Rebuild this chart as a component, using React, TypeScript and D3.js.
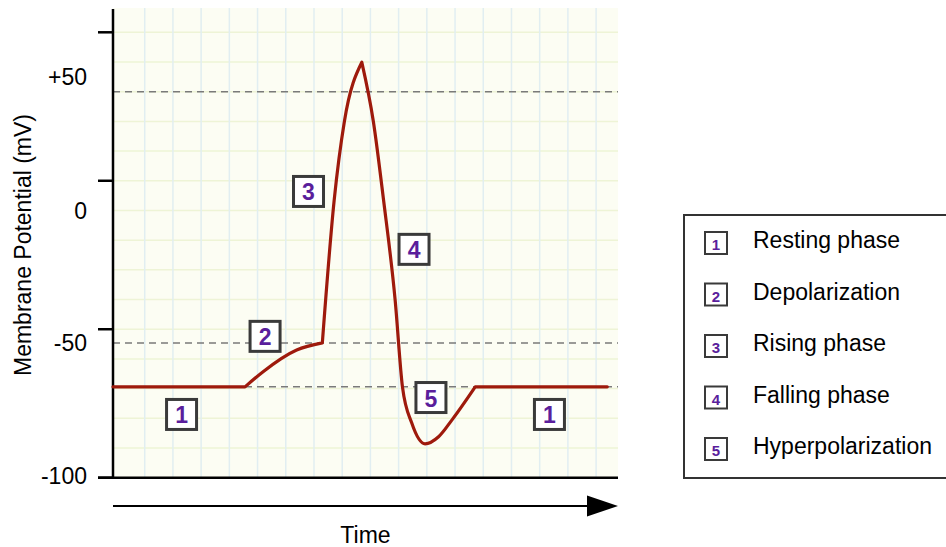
import React from 'react';
import * as d3 from 'd3';

// ---------- data ----------
const timeExtent: [number, number] = [0, 17.9];
const mvDomain: [number, number] = [-100, 50];
const yTicks = [-100, -50, 0, 50];
const yTickLabels = ['-100', '-50', '0', '+50'];
const gridTimes = d3.range(0, 17).map((k) => 1.124 + k);
const gridMv = d3.range(-90, 51, 10);
const referenceLevels = [30, -54.6, -69.4];

const restingStart: [number, number][] = [[0, -69.4], [4.68, -69.4]];
const depolarization: [number, number][] = [
  [4.68, -69.4], [5.32, -64.3], [6.51, -57.0], [7.42, -54.6],
];
const risingPhase: [number, number][] = [
  [7.42, -54.6], [7.84, -6.5], [8.2, 19.9], [8.82, 39.9],
];
const fallingPhase: [number, number][] = [
  [8.82, 39.9], [9.23, 19.9], [9.59, -6.5], [10.0, -40.1], [10.26, -69.4],
  [10.59, -81.6], [11.06, -88.6], [11.54, -86.2], [12.01, -80.6], [12.84, -69.4],
];
const restingEnd: [number, number][] = [[12.84, -69.4], [17.52, -69.4]];

const phaseNumbers = ['1', '2', '3', '4', '5'];
const phaseNames = ['Resting phase', 'Depolarization', 'Rising phase', 'Falling phase', 'Hyperpolarization'];
// annotation anchors (time, mV) and their phase number
const markerTimes = [2.43, 5.39, 6.93, 10.67, 11.27, 15.47];
const markerMv = [-78.7, -52.4, -3.6, -23.1, -73.0, -78.7];
const markerLabels = ['1', '2', '3', '4', '5', '1'];

// ---------- layout ----------
const W = 946;
const H = 547;
const plotLeft = 113;
const plotRight = 618;
const plotTop = 8;
const plotBottom = 477.7;
const tickLabelShift = [-1.5, 14, 30, 45];
const FONT = '"Liberation Sans", Arial, Helvetica, sans-serif';
const PURPLE = '#5a1e9c';
const BOX = '#3a3a3a';
const CURVE = '#9e1a0c';
const FS = 23;

export default function App() {
  const x = d3.scaleLinear().domain(timeExtent).range([plotLeft, plotRight]);
  const y = d3.scaleLinear().domain(mvDomain).range([plotBottom, 32.3]);

  const line = d3.line<[number, number]>().x((d) => x(d[0])).y((d) => y(d[1]));
  const segs: [[number, number][], d3.CurveFactory][] = [
    [restingStart, d3.curveLinear],
    [depolarization, d3.curveMonotoneX],
    [risingPhase, d3.curveMonotoneX],
    [fallingPhase, d3.curveMonotoneX],
    [restingEnd, d3.curveLinear],
  ];
  const pathD = segs
    .map(([pts, c], i) => {
      const d = line.curve(c)(pts) || '';
      return i ? d.replace(/^M/, 'L') : d;
    })
    .join('');

  const legendX = 684;
  const legendY = 215;
  const legendH = 263;
  const rowY0 = 243;
  const rowStep = 51.5;

  return (
    <svg
      width={W}
      height={H}
      style={{ position: 'absolute', left: 0, top: 0, background: '#fff' }}
      fontFamily={FONT}
    >
      {/* plot background */}
      <rect x={plotLeft} y={plotTop} width={plotRight - plotLeft} height={plotBottom - plotTop} fill="#fcfdf3" />
      {gridMv.map((v) => (
        <line key={'h' + v} x1={plotLeft} x2={plotRight} y1={y(v)} y2={y(v)} stroke="#eef4d6" strokeWidth={1.5} />
      ))}
      {gridTimes.map((t) => (
        <line key={'v' + t} x1={x(t)} x2={x(t)} y1={plotTop} y2={plotBottom} stroke="#e1eef1" strokeWidth={1.5} />
      ))}

      {/* reference dashed lines */}
      {referenceLevels.map((v) => (
        <line
          key={'r' + v}
          x1={plotLeft}
          x2={plotRight}
          y1={y(v)}
          y2={y(v)}
          stroke="#7a7a7a"
          strokeWidth={1.5}
          strokeDasharray="7,5"
        />
      ))}

      {/* axes */}
      <line x1={plotLeft} x2={plotLeft} y1={plotTop + 1} y2={plotBottom + 1} stroke="#000" strokeWidth={2.5} />
      <line x1={98} x2={plotRight} y1={plotBottom} y2={plotBottom} stroke="#000" strokeWidth={2.5} />
      {yTicks.map((v, i) => (
        <g key={'t' + v}>
          <line x1={98} x2={plotLeft} y1={y(v)} y2={y(v)} stroke="#000" strokeWidth={2.5} />
          <text
            x={87}
            y={y(v) + tickLabelShift[i]}
            textAnchor="end"
            dominantBaseline="central"
            fontSize={FS}
            fill="#000"
          >
            {yTickLabels[i]}
          </text>
        </g>
      ))}
      <text
        transform={`translate(23, 245) rotate(-90)`}
        textAnchor="middle"
        dominantBaseline="central"
        fontSize={FS}
        fill="#000"
      >
        Membrane Potential (mV)
      </text>

      {/* time arrow */}
      <line x1={plotLeft} x2={590} y1={506} y2={506} stroke="#000" strokeWidth={2.2} />
      <polygon points={`587,495.5 618,506 587,516.5`} fill="#000" />
      <text x={365.5} y={543} textAnchor="middle" fontSize={FS} fill="#000">
        Time
      </text>

      {/* action potential curve */}
      <path d={pathD} fill="none" stroke={CURVE} strokeWidth={3.2} strokeLinejoin="round" strokeLinecap="round" />

      {/* phase markers */}
      {markerTimes.map((t, i) => (
        <g key={'m' + i} transform={`translate(${x(t)},${y(markerMv[i])})`}>
          <rect x={-15} y={-15} width={30} height={30} fill="#fff" stroke={BOX} strokeWidth={3} />
          <text
            x={0}
            y={1}
            textAnchor="middle"
            dominantBaseline="central"
            fontSize={23}
            fontWeight="bold"
            fill={PURPLE}
          >
            {markerLabels[i]}
          </text>
        </g>
      ))}

      {/* legend */}
      <rect x={legendX} y={legendY} width={290} height={legendH} fill="#fff" stroke="#333" strokeWidth={2} />
      {phaseNames.map((name, i) => {
        const cy = rowY0 + i * rowStep;
        return (
          <g key={'l' + i}>
            <rect x={705} y={cy - 11} width={22} height={22} fill="#fff" stroke={BOX} strokeWidth={2} />
            <text
              x={716}
              y={cy + 1.5}
              textAnchor="middle"
              dominantBaseline="central"
              fontSize={15}
              fontWeight="bold"
              fill={PURPLE}
            >
              {phaseNumbers[i]}
            </text>
            <text x={753} y={cy + 5} fontSize={FS} fill="#000">
              {name}
            </text>
          </g>
        );
      })}
    </svg>
  );
}
